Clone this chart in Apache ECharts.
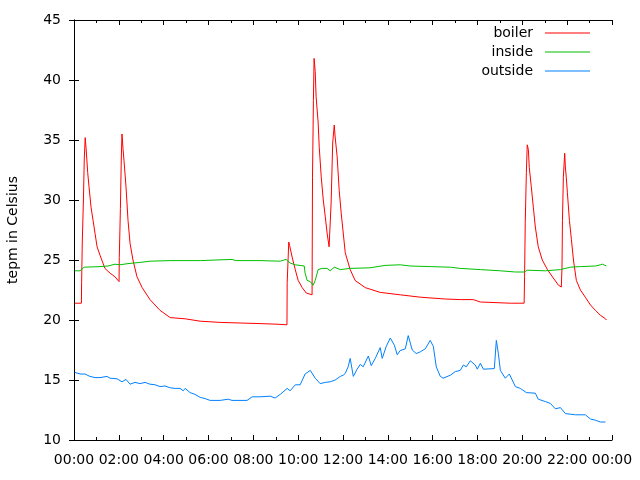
<!DOCTYPE html>
<html>
<head>
<meta charset="utf-8">
<script src="https://cdn.jsdelivr.net/npm/echarts@6/dist/echarts.min.js"></script>
<style>html,body{margin:0;padding:0;background:#fff}#c{width:640px;height:480px}</style>
</head>
<body>
<div id="c"></div>
<script>
// Time of day in hours, temperature in °C
var boilerData = [
 [0.03,21.4],[0.33,21.4],[0.34,23.1],[0.37,26.5],[0.42,30],[0.46,33.5],[0.50,35.2],[0.54,34.3],[0.61,32.3],[0.67,31.1],
 [0.76,29.4],[0.85,28.3],[0.94,27.2],[1.03,26.1],[1.16,25.4],[1.38,24.3],[1.61,23.9],[1.83,23.6],[2.01,23.2],[2.02,25.2],
 [2.07,29.3],[2.11,33.5],[2.14,35.5],[2.19,34.2],[2.23,33.3],[2.32,31.1],[2.41,28.3],[2.5,26.4],[2.63,25],[2.81,23.6],
 [3.04,22.7],[3.39,21.7],[3.84,20.8],[4.29,20.2],[4.96,20.1],[5.63,19.9],[6.52,19.8],[7.41,19.75],[8.3,19.7],[9.06,19.65],
 [9.5,19.6],[9.51,23.1],[9.58,26.5],[9.62,26.2],[9.73,25.25],[9.87,24.2],[10.0,23.3],[10.18,22.7],[10.36,22.25],[10.62,22.1],
 [10.64,31.9],[10.68,38.3],[10.71,41.8],[10.76,40.7],[10.8,38.6],[10.89,36.5],[10.94,34.4],[11.03,31.9],[11.12,30],[11.21,28.6],
 [11.29,27.25],[11.38,26.1],[11.47,29.75],[11.54,34.75],[11.61,36.25],[11.65,35.25],[11.74,33.6],[11.83,30.8],[11.92,28.9],[12.01,27.25],
 [12.1,25.6],[12.32,24.2],[12.54,23.3],[12.99,22.7],[13.66,22.3],[14.55,22.1],[15.45,21.9],[16.56,21.75],[17.23,21.7],[17.81,21.7],
 [18.13,21.5],[19.46,21.4],[20.08,21.4],[20.1,23.6],[20.13,28.1],[20.18,32.3],[20.22,34.6],[20.27,34.2],[20.31,32.7],[20.4,31.1],
 [20.49,29.4],[20.58,27.75],[20.71,26.1],[20.89,25],[21.12,24.2],[21.38,23.5],[21.61,22.9],[21.74,22.75],[21.77,24.4],[21.79,28.3],
 [21.83,31.9],[21.89,33.9],[21.92,32.75],[21.96,31.9],[22.01,30.6],[22.1,28.3],[22.19,26.7],[22.28,25],[22.41,23.3],[22.59,22.5],
 [22.81,21.9],[23.04,21.25],[23.26,20.8],[23.48,20.4],[23.71,20.1],[23.75,20.0]
];
var insideData = [
 [0.03,24.1],[0.27,24.1],[0.45,24.4],[1.16,24.45],[1.52,24.5],[1.83,24.65],[2.05,24.6],[2.41,24.7],[2.95,24.8],[3.39,24.9],
 [4.29,24.95],[5.63,24.95],[7.05,25.05],[7.2,24.95],[8.3,24.95],[9.2,24.9],[9.46,25.05],[9.64,24.75],[9.87,24.6],[10.27,24.5],
 [10.31,23.9],[10.4,23.3],[10.54,23.2],[10.67,22.9],[10.76,23.3],[10.89,24.2],[11.07,24.3],[11.29,24.3],[11.43,24.1],[11.61,24.4],
 [11.88,24.2],[12.32,24.3],[13.21,24.35],[13.88,24.55],[14.55,24.6],[15.0,24.5],[15.89,24.45],[16.79,24.4],[17.23,24.3],[18.13,24.2],
 [19.02,24.1],[19.69,24.0],[20.09,24.0],[20.22,24.15],[21.03,24.1],[21.7,24.2],[22.14,24.4],[22.59,24.45],[23.26,24.5],[23.48,24.6],
 [23.57,24.65],[23.75,24.5]
];
var outsideData = [
 [0.03,15.64],[0.27,15.5],[0.49,15.5],[0.71,15.3],[0.94,15.2],[1.16,15.2],[1.47,15.3],[1.61,15.15],[1.92,15.1],[2.14,14.85],
 [2.32,15.05],[2.5,14.65],[2.72,14.8],[2.95,14.7],[3.17,14.8],[3.39,14.65],[3.62,14.6],[3.84,14.45],[4.06,14.5],[4.29,14.35],
 [4.51,14.3],[4.73,14.3],[4.87,14.1],[4.96,14.3],[5.18,13.95],[5.4,13.8],[5.63,13.55],[5.85,13.45],[6.07,13.3],[6.52,13.3],
 [6.88,13.4],[7.05,13.3],[7.72,13.3],[7.95,13.6],[8.3,13.6],[8.75,13.65],[8.97,13.5],[9.2,13.8],[9.51,14.3],[9.64,14.1],
 [9.87,14.6],[10.09,14.6],[10.31,15.5],[10.54,15.8],[10.76,15.15],[10.98,14.7],[11.21,14.8],[11.43,14.85],[11.65,15.0],[11.88,15.3],
 [12.01,15.4],[12.1,15.55],[12.23,16.1],[12.32,16.8],[12.46,15.3],[12.63,15.9],[12.77,16.3],[12.9,16.1],[13.13,17.0],[13.26,16.2],
 [13.44,16.8],[13.66,17.7],[13.75,16.8],[13.93,17.8],[14.11,18.5],[14.29,17.9],[14.42,17.1],[14.55,17.45],[14.78,17.6],[14.91,18.7],
 [15.09,17.5],[15.27,17.2],[15.45,17.35],[15.67,17.6],[15.89,18.3],[16.03,17.8],[16.16,16.1],[16.34,15.3],[16.47,15.15],[16.79,15.4],
 [17.01,15.7],[17.23,15.8],[17.37,16.25],[17.5,16.1],[17.68,16.6],[17.9,16.25],[17.99,15.9],[18.13,16.4],[18.26,15.9],[18.75,15.95],
 [18.84,18.3],[18.93,17.2],[19.02,15.8],[19.24,15.15],[19.42,15.5],[19.69,14.45],[19.91,14.3],[20.18,13.95],[20.58,13.9],[20.71,13.4],
 [21.03,13.2],[21.25,13.05],[21.47,12.6],[21.7,12.7],[21.92,12.2],[22.37,12.1],[22.81,12.1],[23.04,11.75],[23.26,11.65],[23.48,11.5],
 [23.71,11.5]
];
var seriesNames = ['boiler', 'inside', 'outside'];
var seriesColors = ['#ff0000', '#00c000', '#0080ff'];
var xTickLabels = ['00:00','02:00','04:00','06:00','08:00','10:00','12:00','14:00','16:00','18:00','20:00','22:00','00:00'];
var yTitle = 'tepm in Celsius';

var FONT = 'DejaVu Sans';
var chart = echarts.init(document.getElementById('c'), null, {renderer: 'canvas'});

function mkAxisX(pos, showLabel) {
  return {
    type: 'value', position: pos, min: 0, max: 24, interval: 2,
    axisLine: {show: true, lineStyle: {color: '#000', width: 1}},
    axisTick: {show: true, inside: true, length: 5, lineStyle: {color: '#000'}},
    minorTick: {show: true, splitNumber: 2, length: 3, lineStyle: {color: '#000'}},
    splitLine: {show: false},
    axisLabel: {show: showLabel, margin: 13, color: '#000', fontFamily: FONT, fontSize: 14,
      formatter: function (v) { return xTickLabels[Math.round(v / 2)]; }}
  };
}
function mkAxisY(pos, showLabel) {
  var a = {
    type: 'value', position: pos, min: 10, max: 45, interval: 5,
    axisLine: {show: true, lineStyle: {color: '#000', width: 1}},
    axisTick: {show: true, inside: true, length: 5, lineStyle: {color: '#000'}},
    splitLine: {show: false},
    axisLabel: {show: showLabel, margin: 13, color: '#000', fontFamily: FONT, fontSize: 14}
  };
  if (showLabel) {
    a.name = yTitle; a.nameLocation = 'middle'; a.nameGap = 54;
    a.nameTextStyle = {color: '#000', fontFamily: FONT, fontSize: 14};
  }
  return a;
}

var legends = seriesNames.map(function (n, i) {
  return {
    data: [n], orient: 'vertical', right: 50, top: 26 + i * 19, padding: 0,
    align: 'right', icon: 'rect', itemWidth: 45, itemHeight: 1,
    selectedMode: false,
    textStyle: {color: '#000', fontFamily: FONT, fontSize: 14, padding: [0, 7, 0, 0]}
  };
});

var allData = [boilerData, insideData, outsideData];
chart.setOption({
  animation: false,
  backgroundColor: '#fff',
  grid: {left: 74, right: 28, top: 20, bottom: 40, show: false, containLabel: false, outerBoundsMode: 'none'},
  legend: legends,
  xAxis: [mkAxisX('bottom', true), mkAxisX('top', false)],
  yAxis: [mkAxisY('left', true), mkAxisY('right', false)],
  series: seriesNames.map(function (n, i) {
    return {
      name: n, type: 'line', xAxisIndex: 0, yAxisIndex: 0,
      data: allData[i], showSymbol: false, symbol: 'none',
      color: seriesColors[i],
      lineStyle: {color: seriesColors[i], width: 1},
      itemStyle: {color: seriesColors[i]}
    };
  })
});
</script>
</body>
</html>
